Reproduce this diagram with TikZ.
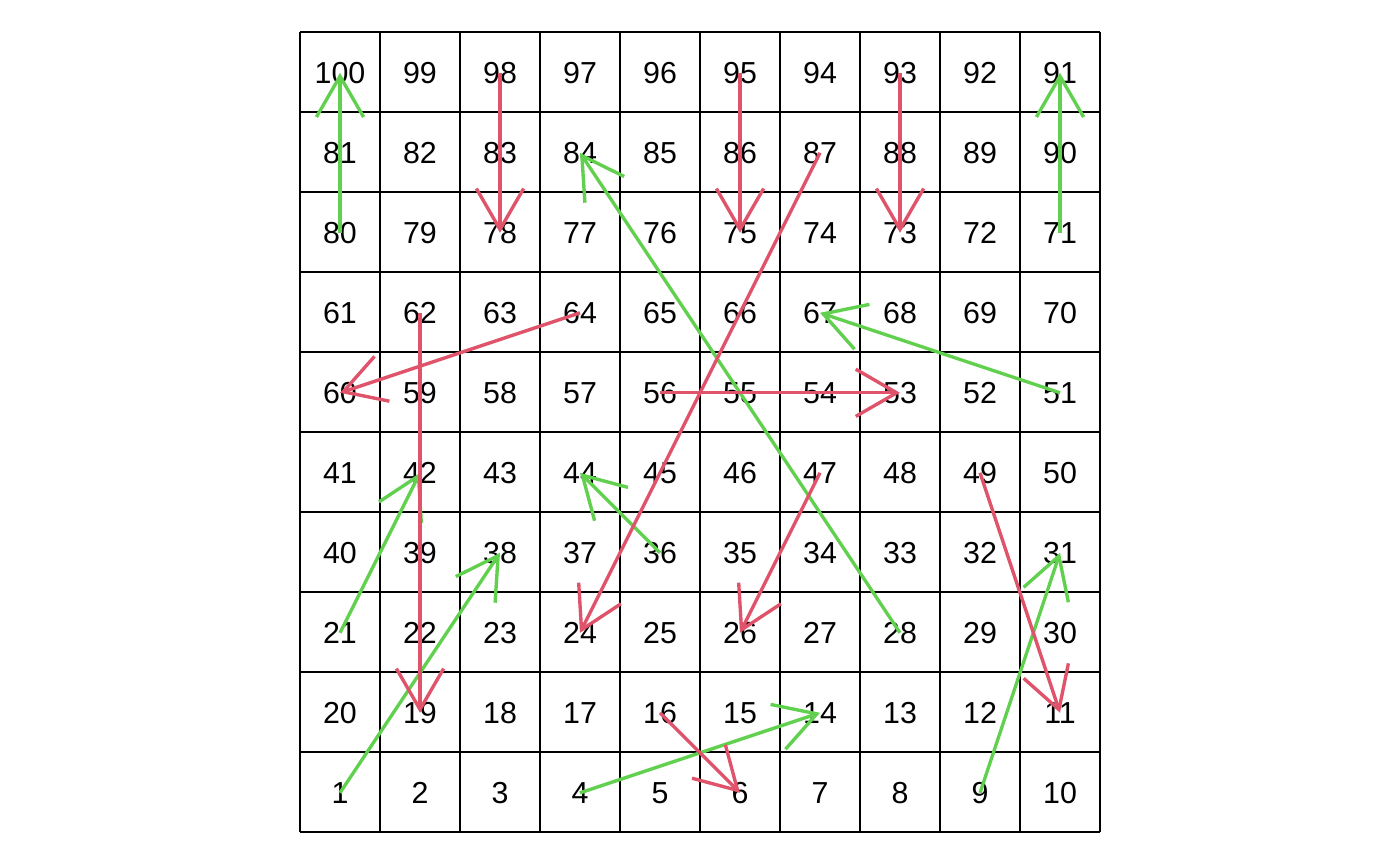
\documentclass[tikz,border=0pt]{standalone}
\usepackage{fontspec}
\setmainfont{Liberation Sans}
\usetikzlibrary{arrows.meta}
\definecolor{snakered}{HTML}{DF536B}
\definecolor{laddergreen}{HTML}{61D04F}
\tikzset{num/.style={inner sep=0pt,font=\fontsize{10.8}{13}\selectfont},
  snk/.style={snakered,line width=1.2pt,-{Straight Barb[angle=60:0.59cm,line cap=butt]}},
  ldr/.style={laddergreen,line width=1.2pt,-{Straight Barb[angle=60:0.59cm,line cap=butt]}}}

\begin{document}
\begin{tikzpicture}
  \useasboundingbox (-3.75,-0.4125) rectangle (13.75,10.4);
  \draw[line width=.55pt] (0,0) grid (10,10);
  \foreach \n in {1,...,100}{\pgfmathtruncatemacro{\rw}{(\n-1)/10}\pgfmathtruncatemacro{\ps}{mod(\n-1,10)}\pgfmathtruncatemacro{\cl}{mod(\rw,2)==0 ? \ps : 9-\ps}\node[num] (c\n) at (\cl+.5,\rw+.49){\n};}
  % ladders
  \foreach \a/\b in {1/38,4/14,9/31,21/42,28/84,36/44,51/67,71/91,80/100}{\draw[ldr] (c\a.center)--(c\b.center);}
  % snakes
  \foreach \a/\b in {16/6,47/26,49/11,56/53,62/19,64/60,87/24,93/73,95/75,98/78}{\draw[snk] (c\a.center)--(c\b.center);}
\end{tikzpicture}
\end{document}
